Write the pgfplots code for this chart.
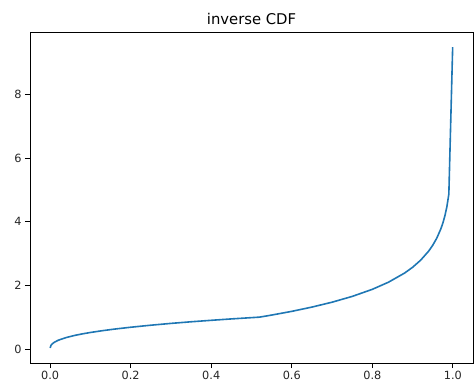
\documentclass[border=0pt]{standalone}
\usepackage{pgfplots}
\pgfplotsset{compat=1.18}
\usepackage{fontspec}
\setmainfont{DejaVu Sans}
\definecolor{mplblue}{HTML}{1F77B4}
\begin{document}
\begin{tikzpicture}
\begin{axis}[
  scale only axis,
  width=443pt, height=331pt,
  xmin=-0.05, xmax=1.05,
  ymin=-0.4435, ymax=9.9735,
  xtick={0,0.2,0.4,0.6,0.8,1.0},
  ytick={0,2,4,6,8},
  xticklabel style={/pgf/number format/.cd, fixed, fixed zerofill, precision=1},
  /pgf/number format/assume math mode=true,
  tick label style={font=\fontsize{11.3}{13}\selectfont, text=black!85},
  tick align=outside,
  major tick length=5pt,
  tick style={black, line width=0.8pt},
  xtick pos=bottom, ytick pos=left,
  axis line style={black, line width=0.8pt},
  title={inverse CDF},
  title style={font=\fontsize{14.8}{17}\selectfont, yshift=-2pt},
  clip=false,
]
\addplot[mplblue, line width=1.6pt, line join=round] coordinates {
(0.000,0.030)
(0.002,0.108)
(0.005,0.156)
(0.010,0.206)
(0.020,0.272)
(0.040,0.358)
(0.060,0.422)
(0.080,0.473)
(0.100,0.517)
(0.130,0.574)
(0.160,0.624)
(0.200,0.682)
(0.250,0.746)
(0.300,0.803)
(0.350,0.854)
(0.400,0.900)
(0.450,0.944)
(0.520,1.000)
(0.550,1.065)
(0.600,1.182)
(0.650,1.316)
(0.700,1.470)
(0.750,1.652)
(0.800,1.875)
(0.840,2.099)
(0.880,2.386)
(0.900,2.569)
(0.920,2.792)
(0.940,3.079)
(0.950,3.262)
(0.960,3.485)
(0.970,3.773)
(0.975,3.955)
(0.980,4.178)
(0.985,4.466)
(0.990,4.871)
(0.9995,9.500)
};
\end{axis}
\pgfresetboundingbox
\path (current axis.south west) ++(-30pt,-27pt) coordinate (bl);
\path (current axis.north east) ++(2pt,32pt) coordinate (tr);
\path[use as bounding box] (bl) rectangle (tr);
\end{tikzpicture}
\end{document}
